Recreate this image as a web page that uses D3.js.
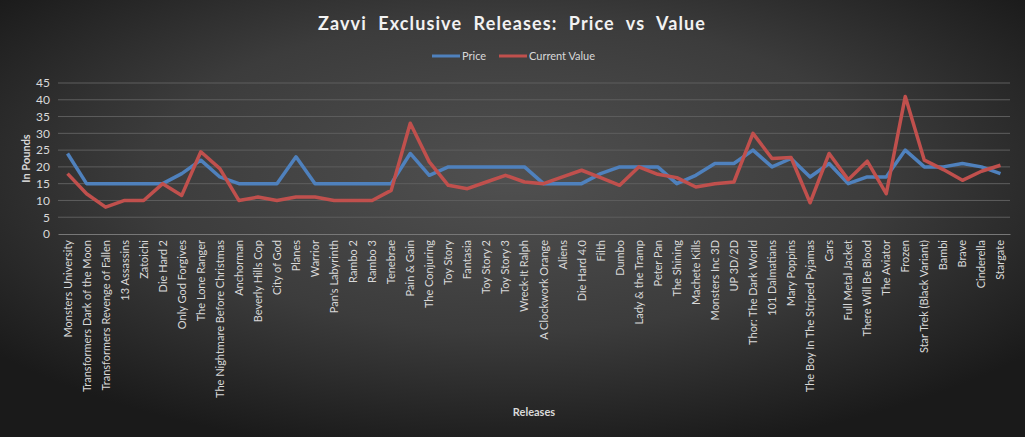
<!DOCTYPE html>
<html>
<head>
<meta charset="utf-8">
<script src="https://cdn.jsdelivr.net/npm/d3@7"></script>
<style>
  html, body { margin: 0; padding: 0; background: #2a2a2a; }
  #chart { width: 1025px; height: 437px; }
  text { font-family: Lato, "Open Sans", sans-serif; }
</style>
</head>
<body>
<div id="chart"></div>
<script>
const releases = [
  'Monsters University', 'Transformers Dark of the Moon', 'Transformers Revenge of Fallen',
  '13 Assassins', 'Zatoichi', 'Die Hard 2', 'Only God Forgives', 'The Lone Ranger',
  'The Nightmare Before Christmas', 'Anchorman', 'Beverly Hills Cop', 'City of God',
  'Planes', 'Warrior', "Pan's Labyrinth", 'Rambo 2', 'Rambo 3', 'Tenebrae', 'Pain & Gain',
  'The Conjuring', 'Toy Story', 'Fantasia', 'Toy Story 2', 'Toy Story 3', 'Wreck-It Ralph',
  'A Clockwork Orange', 'Aliens', 'Die Hard 4.0', 'Filth', 'Dumbo', 'Lady & the Tramp',
  'Peter Pan', 'The Shining', 'Machete Kills', 'Monsters Inc 3D', 'UP 3D/2D',
  'Thor: The Dark World', '101 Dalmatians', 'Mary Poppins', 'The Boy In The Striped Pyjamas',
  'Cars', 'Full Metal Jacket', 'There Will Be Blood', 'The Aviator', 'Frozen',
  'Star Trek (Black Variant)', 'Bambi', 'Brave', 'Cinderella', 'Stargate'
];

const price = [
  24, 15, 15, 15, 15, 15, 18, 22, 17, 15, 15, 15, 23, 15, 15, 15, 15, 15, 24, 17.5,
  20, 20, 20, 20, 20, 15, 15, 15, 18, 20, 20, 20, 15, 17.5, 21, 21, 25, 20, 22.5, 17,
  21, 15, 17, 17, 25, 20, 20, 21, 20, 18
];

const currentValue = [
  18, 12, 8, 10, 10, 15, 11.5, 24.5, 19.5, 10, 11, 10, 11, 11, 10, 10, 10, 13, 33, 21.5,
  14.5, 13.5, 15.5, 17.5, 15.5, 15, 17, 19, 16.8, 14.5, 20, 17.8, 16.8, 14, 15, 15.5, 30, 22.5, 22.8, 9.3,
  24, 16.2, 21.7, 12, 41, 22, 19.2, 16, 18.7, 20.5
];

const yTicks = d3.range(0, 50, 5);

const W = 1025, H = 437;
const margin = { top: 83, right: 15, bottom: 203, left: 58 };

const svg = d3.select('#chart').append('svg')
    .attr('width', W).attr('height', H);

const defs = svg.append('defs');
const grad = defs.append('radialGradient')
    .attr('id', 'bg').attr('cx', '50%').attr('cy', '40%').attr('r', '65%');
grad.append('stop').attr('offset', '0%').attr('stop-color', '#505050');
grad.append('stop').attr('offset', '55%').attr('stop-color', '#3c3c3c');
grad.append('stop').attr('offset', '100%').attr('stop-color', '#1a1a1a');

svg.append('rect').attr('width', W).attr('height', H).attr('fill', 'url(#bg)');

const x = d3.scaleBand().domain(releases)
    .range([margin.left, W - margin.right]);
const y = d3.scaleLinear().domain([0, 45])
    .range([H - margin.bottom, margin.top]);

// gridlines
svg.append('g')
  .selectAll('line').data(yTicks.slice(1)).join('line')
    .attr('x1', margin.left).attr('x2', W - margin.right)
    .attr('y1', d => y(d)).attr('y2', d => y(d))
    .attr('stroke', '#5e5e5e').attr('stroke-width', 1);

// y axis
const yAxis = svg.append('g')
    .attr('transform', `translate(${margin.left},0)`)
    .call(d3.axisLeft(y).tickValues(yTicks).tickSize(0).tickPadding(8));
yAxis.select('.domain').remove();
yAxis.selectAll('text').attr('fill', '#d9d9d9').attr('font-size', 12);

// x axis
const xAxis = svg.append('g')
    .attr('transform', `translate(0,${y(0)})`)
    .call(d3.axisBottom(x).tickSize(0).tickPadding(0));
xAxis.select('.domain').attr('stroke', '#777').attr('stroke-width', 1);
xAxis.selectAll('text')
    .attr('fill', '#d9d9d9').attr('font-size', 11)
    .attr('text-anchor', 'end')
    .attr('dy', null)
    .attr('transform', 'translate(4,6) rotate(-90)');

const cx = d => x(d) + x.bandwidth() / 2;

const lineGen = vals => d3.line()
    .x((d, i) => cx(releases[i]))
    .y(d => y(d))(vals);

svg.append('path').attr('d', lineGen(price))
    .attr('fill', 'none').attr('stroke', '#4f81bd')
    .attr('stroke-width', 3.5).attr('stroke-linejoin', 'round');
svg.append('path').attr('d', lineGen(currentValue))
    .attr('fill', 'none').attr('stroke', '#c0504d')
    .attr('stroke-width', 3.5).attr('stroke-linejoin', 'round');

// title
svg.append('text')
    .attr('x', 512).attr('y', 30)
    .attr('text-anchor', 'middle')
    .attr('fill', '#f2f2f2').attr('font-size', 18).attr('font-weight', 'bold')
    .attr('word-spacing', 6).attr('letter-spacing', 1.1)
    .text('Zavvi Exclusive Releases: Price vs Value');

// legend
const legend = [
  { name: 'Price', color: '#4f81bd', x: 432 },
  { name: 'Current Value', color: '#c0504d', x: 499 }
];
const lg = svg.append('g').selectAll('g').data(legend).join('g')
    .attr('transform', d => `translate(${d.x},56)`);
lg.append('line').attr('x1', 0).attr('x2', 28)
    .attr('stroke', d => d.color).attr('stroke-width', 3);
lg.append('text').attr('x', 30).attr('y', 4)
    .attr('fill', '#d9d9d9').attr('font-size', 11)
    .text(d => d.name);

// axis titles
svg.append('text')
    .attr('transform', `translate(30,${(y(0) + y(45)) / 2}) rotate(-90)`)
    .attr('text-anchor', 'middle')
    .attr('fill', '#d9d9d9').attr('font-size', 11).attr('font-weight', 'bold')
    .text('In Pounds');

svg.append('text')
    .attr('x', (margin.left + W - margin.right) / 2).attr('y', 416)
    .attr('text-anchor', 'middle')
    .attr('fill', '#d9d9d9').attr('font-size', 11).attr('font-weight', 'bold')
    .text('Releases');
</script>
</body>
</html>
